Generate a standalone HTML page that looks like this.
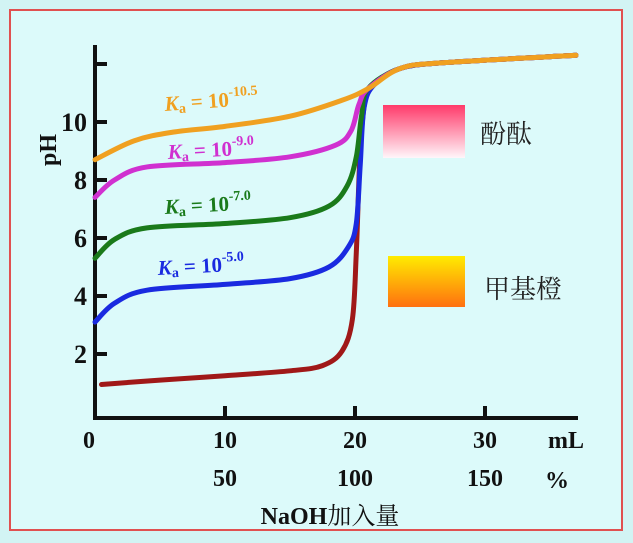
<!DOCTYPE html>
<html><head><meta charset="utf-8"><style>
html,body{margin:0;padding:0;background:#d6f6f6;}
svg{display:block;font-family:"Liberation Serif","Noto Serif CJK SC",serif;}
</style></head><body>
<svg width="633" height="543" viewBox="0 0 633 543">
<defs>
<linearGradient id="pink" x1="0" y1="0" x2="0" y2="1"><stop offset="0" stop-color="#ff3a6a"/><stop offset="1" stop-color="#fff6fa"/></linearGradient>
<linearGradient id="orng" x1="0" y1="0" x2="0" y2="1"><stop offset="0" stop-color="#ffec00"/><stop offset="1" stop-color="#ff7010"/></linearGradient>
</defs>
<rect x="0" y="0" width="633" height="543" fill="#d2f4f4"/>
<rect x="10" y="10" width="612" height="520" fill="#dcfafa" stroke="#e05050" stroke-width="2"/>
<rect x="383" y="105" width="82" height="53" fill="url(#pink)"/>
<text x="480" y="143" font-size="26" fill="#222">酚酞</text>
<rect x="388" y="256" width="77" height="51" fill="url(#orng)"/>
<text x="484" y="298" font-size="26" fill="#222">甲基橙</text>
<g id="axes"></g>
<g id="curves"></g>
<g font-weight="bold" font-style="normal">
<text x="165" y="111" font-size="21" fill="#f0a020" transform="rotate(-4 165 111)"><tspan font-style="italic">K</tspan><tspan font-size="14" dy="3">a</tspan><tspan dy="-3"> = 10</tspan><tspan font-size="14" dy="-10">-10.5</tspan></text>
<text x="168" y="159" font-size="21" fill="#d030d0" transform="rotate(-3 168 159)"><tspan font-style="italic">K</tspan><tspan font-size="14" dy="3">a</tspan><tspan dy="-3"> = 10</tspan><tspan font-size="14" dy="-10">-9.0</tspan></text>
<text x="165" y="214" font-size="21" fill="#1a7a1a" transform="rotate(-3 165 214)"><tspan font-style="italic">K</tspan><tspan font-size="14" dy="3">a</tspan><tspan dy="-3"> = 10</tspan><tspan font-size="14" dy="-10">-7.0</tspan></text>
<text x="158" y="275" font-size="21" fill="#1a2ae0" transform="rotate(-3 158 275)"><tspan font-style="italic">K</tspan><tspan font-size="14" dy="3">a</tspan><tspan dy="-3"> = 10</tspan><tspan font-size="14" dy="-10">-5.0</tspan></text>
</g>
<text transform="translate(56 150) rotate(-90)" font-size="24" font-weight="bold" text-anchor="middle" fill="#111">pH</text>
<text x="548" y="448" font-size="24" font-weight="bold" fill="#111">mL</text>
<text x="545" y="488" font-size="24" font-weight="bold" fill="#111">%</text>
<text x="330" y="524" font-size="24" font-weight="bold" text-anchor="middle" fill="#111">NaOH<tspan font-weight="normal">加入量</tspan></text>
</svg>
<script>
const yTicks=[2,4,6,8,10,12];
const yTickLabels=["2","4","6","8","10",""];
const xTicks=[10,20,30];
const xTickLabels=["10","20","30"];
const pctLabels=["50","100","150"];
const mlOrange=[0,3,6,10,15,19,21,23.5,27,37];
const phOrange=[8.7,9.35,9.65,9.85,10.2,10.75,11.15,11.85,12.05,12.3];
const mlMagenta=[0,1.5,4,10,15,18.5,19.7,20.3,21,23.5,27,37];
const phMagenta=[7.4,8.0,8.45,8.6,8.8,9.2,9.7,10.6,11.15,11.85,12.05,12.3];
const mlGreen=[0,1.5,4,10,15,18,19.4,20.1,20.5,21,23.5,27,37];
const phGreen=[5.3,5.95,6.35,6.5,6.7,7.1,7.8,8.8,10.2,11.15,11.85,12.05,12.3];
const mlBlue=[0,1.5,4,10,15,18,19.5,20.1,20.4,20.7,21.5,23.5,27,37];
const phBlue=[3.1,3.75,4.2,4.4,4.6,5.0,5.7,6.5,8.5,10.5,11.3,11.85,12.05,12.3];
const mlBrown=[0.5,5,10,15,17.5,19,19.8,20.1,20.4,20.8,21.5,23.5,27,37];
const phBrown=[0.95,1.1,1.25,1.42,1.6,2.1,3.2,5.5,9,10.8,11.3,11.85,12.05,12.3];
const NS='http://www.w3.org/2000/svg';
const X=v=>95+13*v;
const Y=v=>412-29*v;
function mk(t,a,p){const e=document.createElementNS(NS,t);for(const k in a)e.setAttribute(k,a[k]);p.appendChild(e);return e;}
const ax=document.getElementById('axes');
let e=mk('line',{x1:95,y1:45,x2:95,y2:420,stroke:'#111','stroke-width':4},ax);


e=mk('line',{x1:93,y1:418,x2:578,y2:418,stroke:'#111','stroke-width':4},ax);


yTicks.forEach((v,i)=>{
 let t=mk('line',{x1:95,y1:Y(v),x2:107,y2:Y(v),stroke:'#111','stroke-width':4},ax);
 
 
 let l=mk('text',{x:87,y:Y(v)+9,'font-size':26,'font-weight':'bold','text-anchor':'end',fill:'#111'},ax);
 l.textContent=yTickLabels[i];
 
 
});
let z=mk('text',{x:89,y:448,'font-size':24,'font-weight':'bold','text-anchor':'middle',fill:'#111'},ax);
z.textContent='0';


xTicks.forEach((v,i)=>{
 let t=mk('line',{x1:X(v),y1:406,x2:X(v),y2:418,stroke:'#111','stroke-width':4},ax);
 
 
 let l=mk('text',{x:X(v),y:448,'font-size':24,'font-weight':'bold','text-anchor':'middle',fill:'#111'},ax);
 l.textContent=xTickLabels[i];
 
 
 let p=mk('text',{x:X(v),y:486,'font-size':24,'font-weight':'bold','text-anchor':'middle',fill:'#111'},ax);
 p.textContent=pctLabels[i];
 
 
});
function path(xs,ys){
 const p=xs.map((v,i)=>[X(v),Y(ys[i])]);
 let d='M'+p[0][0]+','+p[0][1];
 for(let i=0;i<p.length-1;i++){
  const p0=p[Math.max(0,i-1)],p1=p[i],p2=p[i+1],p3=p[Math.min(p.length-1,i+2)];
  const c1=[p1[0]+(p2[0]-p0[0])/6,p1[1]+(p2[1]-p0[1])/6];
  const c2=[p2[0]-(p3[0]-p1[0])/6,p2[1]-(p3[1]-p1[1])/6];
  d+=' C'+c1+' '+c2+' '+p2;
 }
 return d;
}
const cg=document.getElementById('curves');
const series=[[mlBrown,phBrown,'#a01818','curve-strong-acid'],[mlBlue,phBlue,'#1a2ae0','curve-ka-5'],[mlGreen,phGreen,'#1a7a1a','curve-ka-7'],[mlMagenta,phMagenta,'#d030d0','curve-ka-9'],[mlOrange,phOrange,'#f0a020','curve-ka-10.5']];
series.forEach(s=>{
 let c=mk('path',{d:path(s[0],s[1]),fill:'none',stroke:s[2],'stroke-width':5,'stroke-linecap':'round'},cg);
 
 
});
</script>
</body></html>
